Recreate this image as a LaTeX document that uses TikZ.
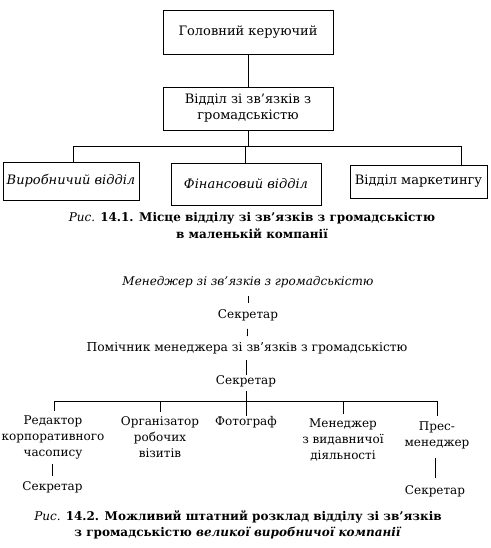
\documentclass[tikz,border=0pt]{standalone}
\usepackage{fontspec}
\setmainfont{DejaVu Serif}
\newcommand\fs{\fontsize{12}{16}\selectfont}
\newcommand\fb{\fontsize{13}{16}\selectfont}
\begin{document}
\begin{tikzpicture}[x=1pt,y=-1pt,
  box/.style={draw,line width=0.9pt,inner sep=0pt,align=center,font=\fb},
  lbl/.style={inner sep=0pt,align=center,font=\fs},
  ln/.style={line width=0.8pt}]
\useasboundingbox (0,0) rectangle (490,548);
% --- Figure 14.1
\node[box,minimum width=170pt,minimum height=44pt] (top) at (248,32) {Головний керуючий};
\node[box,minimum width=170pt,minimum height=43pt] (pr) at (248,108.5) {Відділ зі зв'язків з\\громадськістю};
\node[box,minimum width=136pt,minimum height=38pt] (prod) at (71,181) {\itshape Виробничий відділ};
\node[box,minimum width=150pt,minimum height=42pt] (fin) at (246,184) {\itshape Фінансовий відділ};
\node[box,minimum width=137pt,minimum height=33pt] (mkt) at (418.5,181.5) {Відділ маркетингу};
\coordinate (barL) at (73,146);
\coordinate (barR) at (461,146);
\coordinate (barM) at (245,146);
\draw[ln] (top) -- (pr);
\draw[ln] (pr.south) -- (pr.south |- barL);
\draw[ln] (barL |- prod.north) -- (barL) -- (barR) -- (barR |- mkt.north);
\draw[ln] (barM) -- (barM |- fin.north);
\node[lbl] (cap1a) at (252,218) {\textit{Рис.} \textbf{14.1. Місце відділу зі зв'язків з громадськістю}};
\node[lbl] (cap1b) at (252,234) {\textbf{в маленькій компанії}};
% --- Figure 14.2
\node[lbl] (m1) at (248,282) {\itshape Менеджер зі зв'язків з громадськістю};
\node[lbl] (s1) at (248,315) {Секретар};
\node[lbl,font=\fontsize{12.3}{16}\selectfont] (p1) at (247,348) {Помічник менеджера зі зв'язків з громадськістю};
\node[lbl] (s2) at (246,381) {Секретар};
\node[lbl,anchor=north] (edit) at (53,416) {Редактор\\корпоративного\\часопису};
\node[lbl,anchor=north] (org) at (160,416) {Організатор\\робочих\\візитів};
\node[lbl,anchor=north] (photo) at (246,416) {Фотограф};
\node[lbl,anchor=north] (pub) at (343,419) {Менеджер\\з видавничої\\діяльності};
\node[lbl,anchor=north] (press) at (437,422) {Прес-\\менеджер};
\node[lbl] (edsec) at (52.5,487) {Секретар};
\node[lbl] (prsec) at (435,491) {Секретар};
\coordinate (b2L) at (54,401);
\coordinate (b2R) at (437,401);
\coordinate (edtick) at (52.5,464);
\draw[ln,shorten <=8pt,shorten >=6pt] (m1) -- (s1);
\draw[ln,shorten <=8pt,shorten >=6pt] (s1) -- (p1);
\draw[ln,shorten <=6pt] (s2.north |- p1.south) -- (s2.north);
\draw[ln,shorten <=4pt] (s2.south) -- (photo.north);
\draw[ln] (b2L) -- (b2R);
\draw[ln,shorten >=5pt] (b2L) -- (b2L |- edit.north);
\draw[ln,shorten >=4pt] (org.north |- b2L) -- (org.north);
\draw[ln,shorten >=5pt] (pub.north |- b2L) -- (pub.north);
\draw[ln,shorten >=6pt] (b2R) -- (b2R |- press.north);
\draw[ln,shorten >=5pt] (edtick) -- (edsec);
\draw[ln,shorten <=8pt,shorten >=7pt] (press.south -| prsec) -- (prsec);
\node[lbl] (cap2a) at (238,517) {\textit{Рис.} \textbf{14.2. Можливий штатний розклад відділу зі зв'язків}};
\node[lbl] (cap2b) at (238,533) {\textbf{з громадськістю \textit{великої виробничої компанії}}};
\end{tikzpicture}
\end{document}
